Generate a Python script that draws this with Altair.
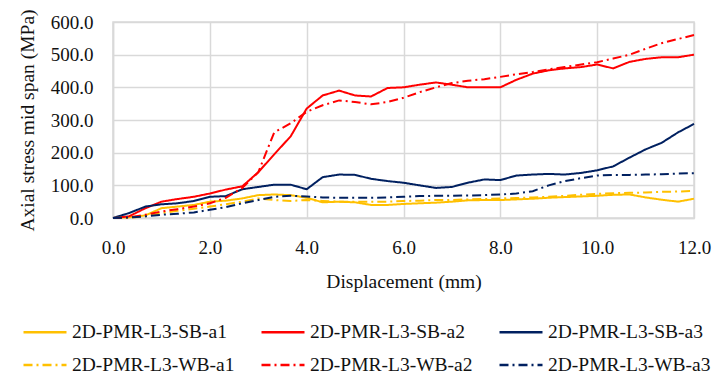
import altair as alt
import pandas as pd

disp = [0.0, 0.33, 0.67, 1.0, 1.33, 1.67, 2.0, 2.33, 2.67, 3.0, 3.33, 3.67,
        4.0, 4.33, 4.67, 5.0, 5.33, 5.67, 6.0, 6.33, 6.67, 7.0, 7.33, 7.67,
        8.0, 8.33, 8.67, 9.0, 9.33, 9.67, 10.0, 10.33, 10.67, 11.0, 11.33, 11.67, 12.0]

sb_a1 = [0, 2, 8, 30, 35, 40, 50, 53, 60, 70, 72, 70, 62, 48, 50, 48, 40, 40, 43, 45, 47,
         50, 54, 55, 55, 57, 59, 62, 64, 66, 68, 71, 72, 63, 56, 50, 59]
sb_a2 = [0, 5, 30, 50, 58, 65, 75, 87, 97, 140, 195, 250, 335, 375, 390, 375, 372, 398, 400,
         408, 415, 408, 400, 400, 400, 423, 442, 452, 458, 462, 470, 458, 478, 487, 492, 492, 500]
sb_a3 = [0, 15, 35, 42, 45, 52, 65, 67, 88, 95, 102, 102, 88, 125, 133, 132, 120, 113, 108,
         100, 92, 95, 108, 118, 116, 130, 133, 135, 133, 138, 146, 158, 185, 210, 230, 262, 288]
wb_a1 = [0, 1, 5, 15, 22, 28, 35, 42, 50, 60, 55, 52, 55, 52, 50, 50, 50, 50, 52, 53, 55,
         55, 57, 58, 60, 61, 63, 65, 68, 71, 74, 76, 77, 78, 80, 81, 83]
wb_a2 = [0, 2, 10, 20, 27, 35, 45, 62, 92, 140, 262, 290, 325, 345, 360, 355, 348, 355, 368,
         385, 400, 413, 420, 425, 432, 440, 447, 455, 462, 470, 477, 488, 500, 518, 535, 548, 560]
wb_a3 = [0, 2, 5, 10, 13, 17, 25, 33, 45, 55, 65, 68, 66, 63, 62, 62, 62, 63, 65, 67, 68,
         68, 69, 70, 72, 75, 82, 100, 113, 122, 130, 132, 132, 133, 134, 136, 137]

names = ["2D-PMR-L3-SB-a1", "2D-PMR-L3-SB-a2", "2D-PMR-L3-SB-a3",
         "2D-PMR-L3-WB-a1", "2D-PMR-L3-WB-a2", "2D-PMR-L3-WB-a3"]
series = [sb_a1, sb_a2, sb_a3, wb_a1, wb_a2, wb_a3]
colors = ["#FFC000", "#FF0000", "#002060", "#FFC000", "#FF0000", "#002060"]
dashes = [[1, 0], [1, 0], [1, 0], [9, 4, 2, 4], [9, 4, 2, 4], [9, 4, 2, 4]]

rows = []
for n, ys in zip(names, series):
    for i, (x, y) in enumerate(zip(disp, ys)):
        rows.append({"series": n, "disp": x, "stress": y, "order": i})
df = pd.DataFrame(rows)

FONT = "'Liberation Serif', 'Times New Roman', serif"

legend = alt.Legend(
    title=None, orient="none", legendX=-91, legendY=287, columns=3, direction="horizontal",
    symbolType="stroke", symbolSize=1849, symbolStrokeWidth=2.5,
    labelFont=FONT, labelFontSize=19.5, labelColor="#111111", labelOffset=4,
    columnPadding=21, rowPadding=-1, labelLimit=300,
)

chart = alt.Chart(df).mark_line(strokeWidth=2).encode(
    x=alt.X("disp:Q", scale=alt.Scale(domain=[0, 12], nice=False),
            axis=alt.Axis(values=[0, 2, 4, 6, 8, 10, 12], format=".1f",
                          title="Displacement (mm)", grid=True)),
    y=alt.Y("stress:Q", scale=alt.Scale(domain=[0, 600], nice=False),
            axis=alt.Axis(values=[0, 100, 200, 300, 400, 500, 600], format=".1f",
                          title="Axial stress mid span (MPa)", grid=True)),
    color=alt.Color("series:N", scale=alt.Scale(domain=names, range=colors), legend=legend),
    strokeDash=alt.StrokeDash("series:N", scale=alt.Scale(domain=names, range=dashes), legend=legend),
    order="order:Q",
).properties(
    width=581, height=196,
    autosize=alt.AutoSizeParams(type="none"),
    padding={"left": 113, "top": 22, "right": 19, "bottom": 158},
).configure_view(
    stroke="#D9D9D9", strokeWidth=1.5
).configure_axis(
    gridColor="#D9D9D9", gridWidth=1.5, domainColor="#D9D9D9", domainWidth=1.5,
    ticks=False, labelFont=FONT, labelFontSize=19, labelColor="#111111", labelFlush=False,
    titleFont=FONT, titleFontWeight="normal", titleColor="#111111",
).configure_axisX(
    labelPadding=20, titleFontSize=19.5, titlePadding=15,
).configure_axisY(
    labelPadding=20, titleFontSize=19.5, titlePadding=13,
)

chart.save("out.html", embed_options={"renderer": "svg", "actions": False})
